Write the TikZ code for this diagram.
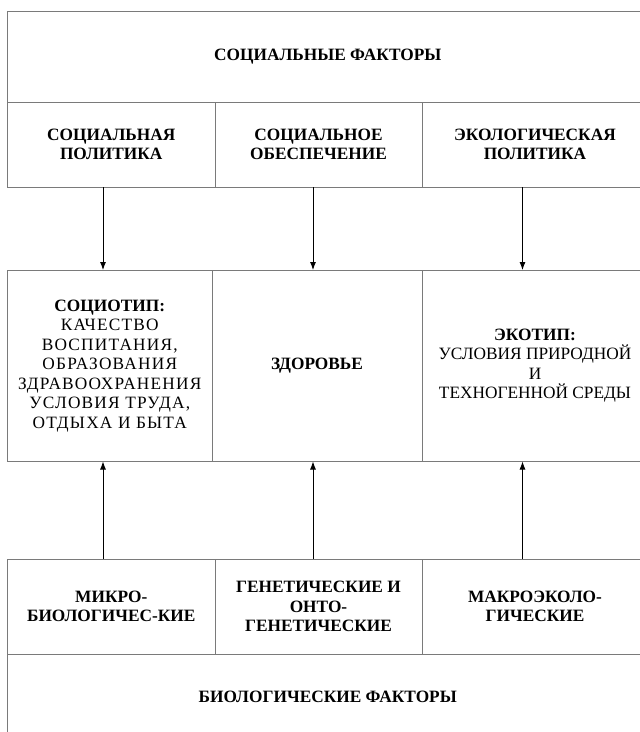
\documentclass[tikz,border=0pt]{standalone}
\usepackage{fontspec}
\setmainfont{Liberation Serif}
\newfontfamily\spacedserif[LetterSpace=7]{Liberation Serif}
\usetikzlibrary{arrows.meta}
\definecolor{bordergray}{HTML}{7A7A7A}
\begin{document}
\begin{tikzpicture}[x=1pt,y=-1pt,
  cell/.style={draw=bordergray,line width=1pt,rectangle,inner sep=0pt,outer sep=0pt,
    align=center,font=\fontsize{17.3}{19.5}\selectfont\bfseries},
  arr/.style={draw=black,line width=0.9pt,-{Latex[length=8pt,width=6pt]}}]
\useasboundingbox (0,0) rectangle (640,732);
\clip (0,0) rectangle (640,732);
% top block
\node[cell,minimum width=640.5pt,minimum height=91pt] (sf) at (327.75,56.5) {СОЦИАЛЬНЫЕ ФАКТОРЫ};
% row 2
\node[cell,minimum width=207.5pt,minimum height=85pt] (p1) at (111.25,144.5) {СОЦИАЛЬНАЯ\\ПОЛИТИКА};
\node[cell,minimum width=207pt,minimum height=85pt] (p2) at (318.5,144.5) {СОЦИАЛЬНОЕ\\ОБЕСПЕЧЕНИЕ};
\node[cell,minimum width=226pt,minimum height=85pt] (p3) at (535,144.5) {ЭКОЛОГИЧЕСКАЯ\\ПОЛИТИКА};
% middle row
\node[cell,minimum width=204.5pt,minimum height=191.5pt] (t1) at (109.75,365.75)
  {СОЦИОТИП:\\{\spacedserif\mdseries КАЧЕСТВО}\\{\spacedserif\mdseries ВОСПИТАНИЯ,}\\{\spacedserif\mdseries ОБРАЗОВАНИЯ}\\{\spacedserif\mdseries ЗДРАВООХРАНЕНИЯ}\\{\spacedserif\mdseries УСЛОВИЯ ТРУДА,}\\{\spacedserif\mdseries ОТДЫХА И БЫТА}};
\node[cell,minimum width=210pt,minimum height=191.5pt] (t2) at (317,365.75) {ЗДОРОВЬЕ};
\node[cell,minimum width=226pt,minimum height=191.5pt] (t3) at (535,365.75)
  {ЭКОТИП:\\{\mdseries УСЛОВИЯ ПРИРОДНОЙ}\\{\mdseries И}\\{\mdseries ТЕХНОГЕННОЙ СРЕДЫ}};
% bottom row
\node[cell,minimum width=207.5pt,minimum height=95pt] (b1) at (111.25,606.5) {МИКРО-\\БИОЛОГИЧЕС-КИЕ};
\node[cell,minimum width=207pt,minimum height=95pt] (b2) at (318.5,606.5) {ГЕНЕТИЧЕСКИЕ И\\ОНТО-\\ГЕНЕТИЧЕСКИЕ};
\node[cell,minimum width=226pt,minimum height=95pt] (b3) at (535,606.5) {МАКРОЭКОЛО-\\ГИЧЕСКИЕ};
% bottom block
\node[cell,minimum width=640.5pt,minimum height=86pt] (bf) at (327.75,697) {БИОЛОГИЧЕСКИЕ ФАКТОРЫ};
% arrow columns
\coordinate (a1) at (103,0);
\coordinate (a2) at (313,0);
\coordinate (a3) at (522.5,0);
\draw[arr] (p1.south -| a1) -- (t1.north -| a1);
\draw[arr] (p2.south -| a2) -- (t2.north -| a2);
\draw[arr] (p3.south -| a3) -- (t3.north -| a3);
\draw[arr] (b1.north -| a1) -- (t1.south -| a1);
\draw[arr] (b2.north -| a2) -- (t2.south -| a2);
\draw[arr] (b3.north -| a3) -- (t3.south -| a3);
\end{tikzpicture}
\end{document}
